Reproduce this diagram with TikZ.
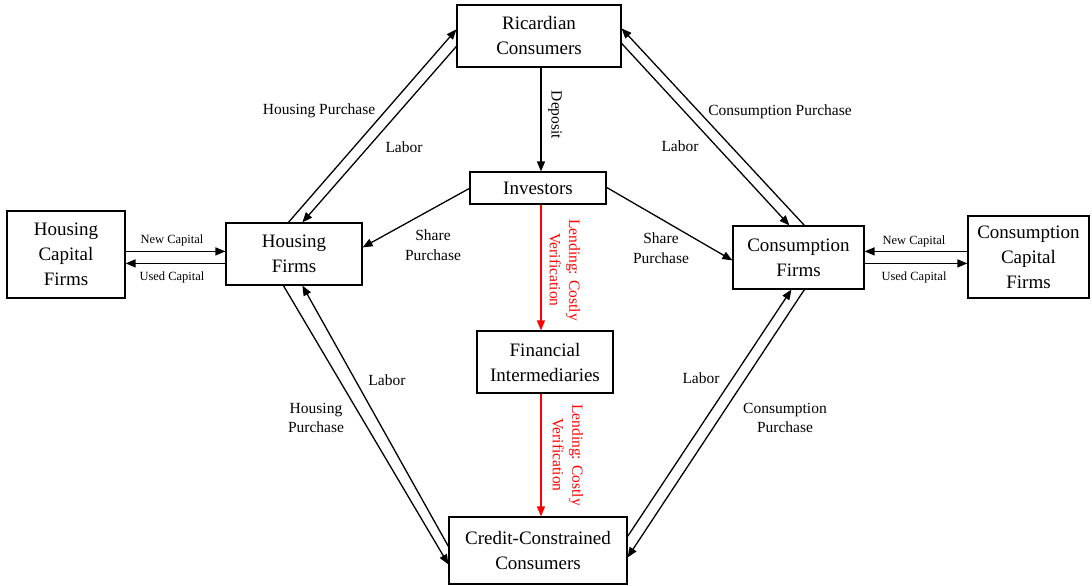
\documentclass[tikz,border=0pt]{standalone}
\usepackage{fontspec}
\setmainfont{Liberation Serif}
\usetikzlibrary{arrows.meta,calc}
\begin{document}
\begin{tikzpicture}[x=1pt,y=-1pt,
  box/.style={draw, line width=1.2pt, inner sep=0pt, align=center, font=\fontsize{19}{25}\selectfont},
  lbl/.style={font=\fontsize{15.5}{19.5}\selectfont, align=center, inner sep=0pt},
  sml/.style={font=\fontsize{12.5}{15}\selectfont, inner sep=0pt},
  arr/.style={line width=1.3pt, -{Triangle[length=10pt,width=8pt]}},
  redarr/.style={arr, draw=red, fill=red},
  redlbl/.style={lbl, text=red, rotate=-90}
]
\useasboundingbox (0,0) rectangle (1092,586);

% boxes
\node[box, minimum width=164pt, minimum height=62pt] (ric) at (539,36) {Ricardian\\Consumers};
\node[box, minimum width=136pt, minimum height=32pt] (inv) at (538,188) {Investors};
\node[box, minimum width=136pt, minimum height=62pt] (fi) at (545,362) {Financial\\Intermediaries};
\node[box, minimum width=178pt, minimum height=67pt] (cc) at (538,550.5) {Credit-Constrained\\Consumers};
\node[box, minimum width=118pt, minimum height=87pt] (hcf) at (66,254.5) {Housing\\Capital\\Firms};
\node[box, minimum width=136pt, minimum height=62pt] (hf) at (294,254) {Housing\\Firms};
\node[box, minimum width=131pt, minimum height=63pt] (cf) at (798.5,257.5) {Consumption\\Firms};
\node[box, minimum width=121pt, minimum height=82pt] (ccf) at (1028.5,257) {Consumption\\Capital\\Firms};

% upper left pair
\draw[arr] ($(hf.north west)+(63,0)$) -- ($(ric.north west)+(0,25)$);
\draw[arr] ($(ric.north west)+(0,42)$) -- ($(hf.north west)+(77,0)$);
% upper right pair
\draw[arr] ($(cf.north west)+(72,0)$) -- ($(ric.north east)+(0,24)$);
\draw[arr] ($(ric.north east)+(0,39)$) -- ($(cf.north west)+(57,0)$);
% lower left pair
\draw[arr] ($(hf.south west)+(58,0)$) -- ($(cc.north west)+(0,48)$);
\draw[arr] ($(cc.north west)+(0,30)$) -- ($(hf.south west)+(77,0)$);
% lower right pair
\draw[arr] ($(cc.north east)+(0,20)$) -- ($(cf.south west)+(59,0)$);
\draw[arr] ($(cf.south west)+(72,0)$) -- ($(cc.north east)+(0,41)$);
% share purchases
\draw[arr] ($(inv.north west)+(0,17)$) -- ($(hf.north east)+(0,25)$);
\draw[arr] ($(inv.north east)+(0,16)$) -- ($(cf.north west)+(0,35)$);
% capital flows
\draw[arr] ($(hcf.north east)+(0,41)$) -- ($(hf.north west)+(0,29)$);
\draw[arr] ($(hf.north west)+(0,41)$) -- ($(hcf.north east)+(0,53)$);
\draw[arr] ($(ccf.north west)+(0,36)$) -- ($(cf.north east)+(0,26)$);
\draw[arr] ($(cf.north east)+(0,38)$) -- ($(ccf.north west)+(0,48)$);
% vertical
\draw[arr] ($(ric.south)+(2,0)$) -- ($(inv.north)+(3,0)$);
\draw[redarr] ($(inv.south)+(3,0)$) -- ($(fi.north)+(-4,0)$);
\draw[redarr] ($(fi.south)+(-4,0)$) -- ($(cc.north)+(3,0)$);

% labels
\node[lbl] (l1) at (319,111) {Housing Purchase};
\node[lbl] (l2) at (404,147) {Labor};
\node[lbl] (l3) at (780,112) {Consumption Purchase};
\node[lbl] (l4) at (680,146) {Labor};
\node[lbl] (l5) at (387,380) {Labor};
\node[lbl] (l6) at (316,418) {Housing\\Purchase};
\node[lbl] (l7) at (701,378) {Labor};
\node[lbl] (l8) at (785,418) {Consumption\\Purchase};
\node[lbl] (l9) at (433,245) {Share\\Purchase};
\node[lbl] (l10) at (661,248) {Share\\Purchase};
\node[sml] (l11) at (172,240) {New Capital};
\node[sml] (l12) at (172,277) {Used Capital};
\node[sml] (l13) at (914,241) {New Capital};
\node[sml] (l14) at (914,277) {Used Capital};
\node[lbl, rotate=-90] (l15) at (555,115) {Deposit};
\node[redlbl] (l16) at (565,270) {Lending: Costly\\Verification};
\node[redlbl] (l17) at (568,455) {Lending: Costly\\Verification};
\end{tikzpicture}
\end{document}
